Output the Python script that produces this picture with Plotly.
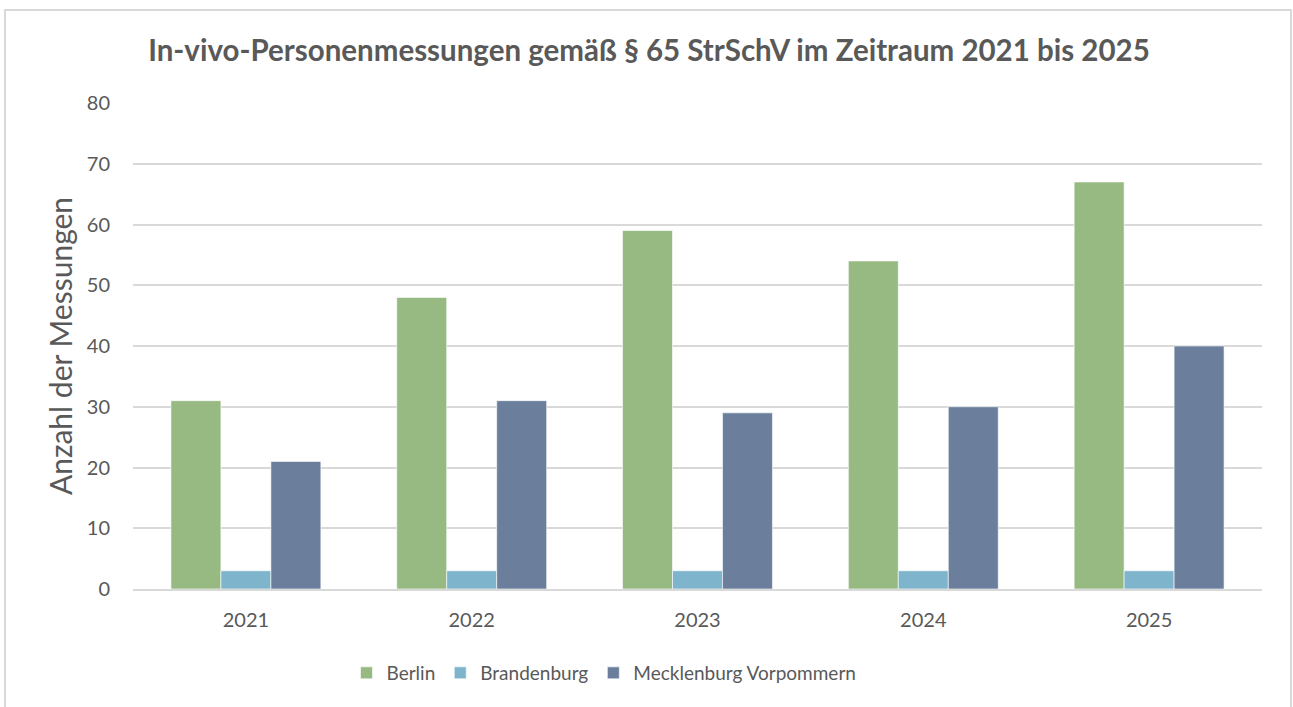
import plotly.graph_objects as go

years = ["2021", "2022", "2023", "2024", "2025"]
berlin = [31, 48, 59, 54, 67]
brandenburg = [3, 3, 3, 3, 3]
mv = [21, 31, 29, 30, 40]
y_ticks = [0, 10, 20, 30, 40, 50, 60, 70, 80]

W, H = 1293, 707
L, R, T, B = 133, 31, 103, 118
pw, ph = W - L - R, H - T - B

def px_x(p):
    return (p - L) / pw

def px_y(p):
    return (H - B - p) / ph

font_family = "Lato, 'Open Sans', sans-serif"
gray = "#595959"

fig = go.Figure()
for name, vals, col in [("Berlin", berlin, "#97B982"),
                        ("Brandenburg", brandenburg, "#7FB5CC"),
                        ("Mecklenburg Vorpommern", mv, "#6B7F9D")]:
    fig.add_trace(go.Bar(x=years, y=vals, name=name, marker_color=col,
                         marker_line=dict(color="rgba(255,255,255,0.6)", width=1)))

fig.update_layout(
    width=W, height=H,
    margin=dict(l=L, r=R, t=T, b=B),
    paper_bgcolor="white", plot_bgcolor="white",
    barmode="group", bargap=0.336, bargroupgap=0,
    title=dict(text="<b>In-vivo-Personenmessungen gemäß § 65 StrSchV im Zeitraum 2021 bis 2025</b>",
               x=px_x(649), xanchor="center", y=1 - 51 / H, yanchor="middle",
               font=dict(family=font_family, size=29.5, color=gray)),
    font=dict(family=font_family, color=gray),
    xaxis=dict(showgrid=False, showline=True, linecolor="#D9D9D9", linewidth=1.5,
               ticks="outside", ticklen=12, tickcolor="white",
               tickfont=dict(size=20, color=gray)),
    yaxis=dict(range=[0, 80], tickvals=y_ticks, showgrid=True, gridcolor="#D9D9D9",
               gridwidth=1.5, zeroline=False, showline=False, ticks="outside",
               ticklen=18, tickcolor="white",
               tickfont=dict(size=20, color=gray),
               title=dict(text="Anzahl der Messungen", font=dict(size=30, color=gray), standoff=5)),
    legend=dict(orientation="h", x=px_x(604), xanchor="center", y=px_y(673), yanchor="middle",
                font=dict(size=19, color=gray), itemwidth=30, traceorder="normal"),
    shapes=[dict(type="rect", xref="paper", yref="paper",
                 x0=px_x(5), x1=px_x(1291), y0=px_y(720), y1=px_y(10),
                 line=dict(color="#D9D9D9", width=2), fillcolor="rgba(0,0,0,0)", layer="below")],
)
fig.update_layout(title_x=0.5, title_xref="paper")
fig.layout.title.x = px_x(649)

fig.write_html("out.html", config={"displayModeBar": False},
               post_script="document.body.style.margin='0';")
